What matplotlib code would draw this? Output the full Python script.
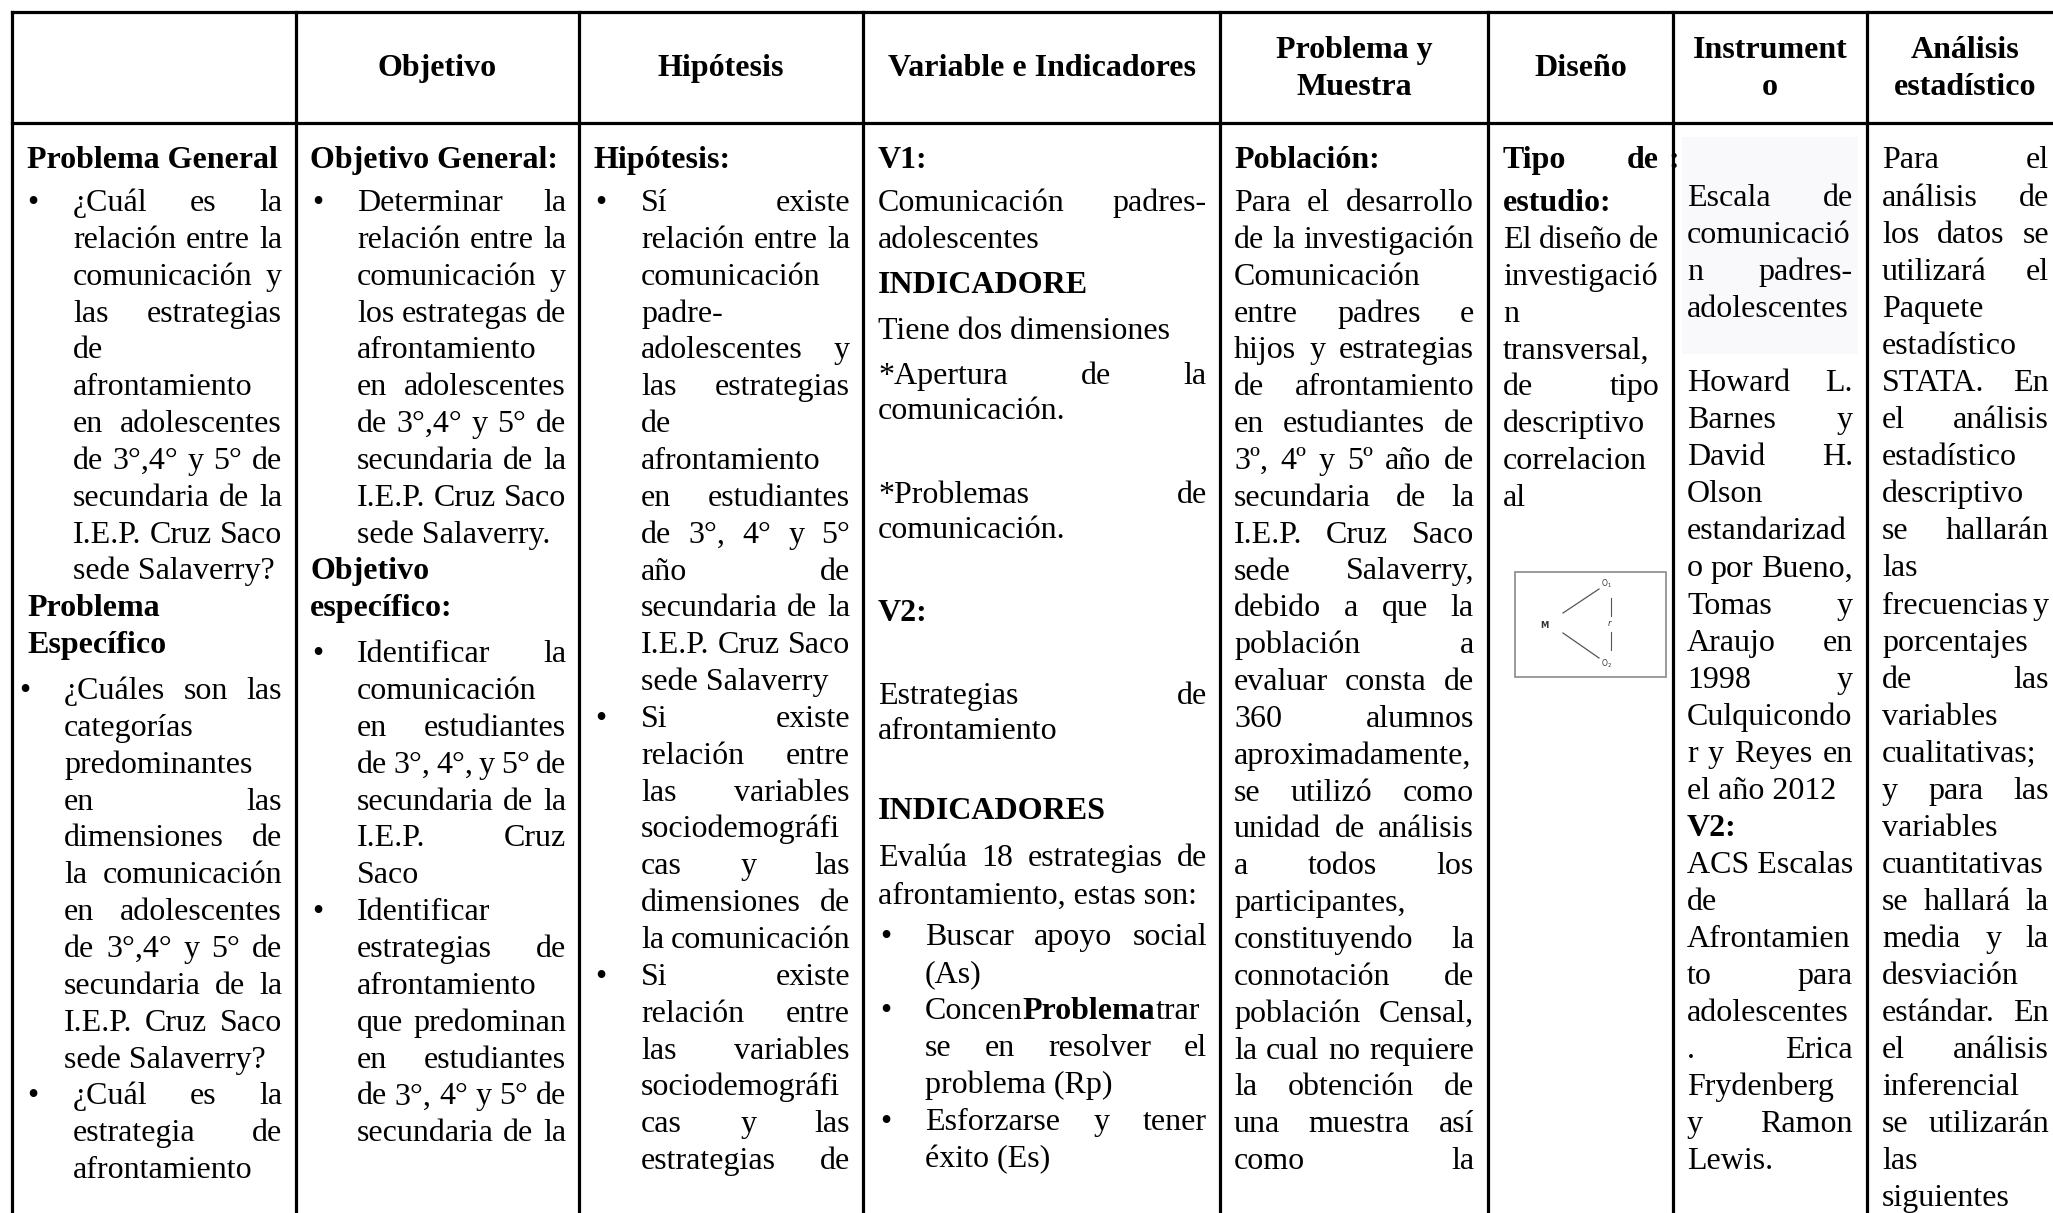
import matplotlib
matplotlib.use("Agg")
import matplotlib.pyplot as plt
from matplotlib.font_manager import FontProperties
from matplotlib.patches import Rectangle

# ---------------- data (text content) ----------------
HEADERS = ["", "Objetivo", "Hipótesis", "Variable e Indicadores",
           "Problema y\nMuestra", "Diseño", "Instrument\no", "Análisis\nestadístico"]

PROBLEMA = ["Problema General", "¿Cuál es la", "relación entre la", "comunicación y",
            "las estrategias", "de", "afrontamiento", "en adolescentes", "de 3°,4° y 5° de",
            "secundaria de la", "I.E.P. Cruz Saco", "sede Salaverry?", "Problema", "Específico",
            "¿Cuáles son las", "categorías", "predominantes", "en las", "dimensiones de",
            "la comunicación", "en adolescentes", "de 3°,4° y 5° de", "secundaria de la",
            "I.E.P. Cruz Saco", "sede Salaverry?", "¿Cuál es la", "estrategia de", "afrontamiento"]

OBJETIVO = ["Objetivo General:", "Determinar la", "relación entre la", "comunicación y",
            "los estrategas de", "afrontamiento", "en adolescentes", "de 3°,4° y 5° de",
            "secundaria de la", "I.E.P. Cruz Saco", "sede Salaverry.", "Objetivo", "específico:",
            "Identificar la", "comunicación", "en estudiantes", "de 3°, 4°, y 5° de",
            "secundaria de la", "I.E.P. Cruz", "Saco", "Identificar", "estrategias de",
            "afrontamiento", "que predominan", "en estudiantes", "de 3°, 4° y 5° de",
            "secundaria de la"]

HIPOTESIS = ["Hipótesis:", "Sí existe", "relación entre la", "comunicación", "padre-",
             "adolescentes y", "las estrategias", "de", "afrontamiento", "en estudiantes",
             "de 3°, 4° y 5°", "año de", "secundaria de la", "I.E.P. Cruz Saco", "sede Salaverry",
             "Si existe", "relación entre", "las variables", "sociodemográfi", "cas y las",
             "dimensiones de", "la comunicación", "Si existe", "relación entre", "las variables",
             "sociodemográfi", "cas y las", "estrategias de"]

VARIABLES = ["V1:", "Comunicación padres-", "adolescentes", "INDICADORE", "Tiene dos dimensiones",
             "*Apertura de la", "comunicación.", "*Problemas de", "comunicación.", "V2:",
             "Estrategias de", "afrontamiento", "INDICADORES", "Evalúa 18 estrategias de",
             "afrontamiento, estas son:", "Buscar apoyo social", "(As)", "Concen**Problema**trar",
             "se en resolver el", "problema (Rp)", "Esforzarse y tener", "éxito (Es)"]

POBLACION = ["Población:", "Para el desarrollo", "de la investigación", "Comunicación",
             "entre padres e", "hijos y estrategias", "de afrontamiento", "en estudiantes de",
             "3º, 4º y 5º año de", "secundaria de la", "I.E.P. Cruz Saco", "sede Salaverry,",
             "debido a que la", "población a", "evaluar consta de", "360 alumnos",
             "aproximadamente,", "se utilizó como", "unidad de análisis", "a todos los",
             "participantes,", "constituyendo la", "connotación de", "población Censal,",
             "la cual no requiere", "la obtención de", "una muestra así", "como la"]

DISENO = ["Tipo de", "estudio:", "El diseño de", "investigació", "n", "transversal,",
          "de tipo", "descriptivo", "correlacion", "al"]

INSTRUMENTO = ["Escala de", "comunicació", "n padres-", "adolescentes", "Howard L.",
               "Barnes y", "David H.", "Olson", "estandarizad", "o por Bueno,", "Tomas y",
               "Araujo en", "1998 y", "Culquicondo", "r y Reyes en", "el año 2012", "V2:",
               "ACS Escalas", "de", "Afrontamien", "to para", "adolescentes", ". Erica",
               "Frydenberg", "y Ramon", "Lewis."]

ANALISIS = ["Para el", "análisis de", "los datos se", "utilizará el", "Paquete", "estadístico",
            "STATA. En", "el análisis", "estadístico", "descriptivo", "se hallarán", "las",
            "frecuencias y", "porcentajes", "de las", "variables", "cualitativas;", "y para las",
            "variables", "cuantitativas", "se hallará la", "media y la", "desviación",
            "estándar. En", "el análisis", "inferencial", "se utilizarán", "las", "siguientes"]

# ---------------- layout ----------------
W, H, DPI = 2053, 1213, 100
COL_EDGES = [12, 296, 579, 863, 1220, 1488, 1673, 1867, 2063]
TOP, HEAD_BOTTOM = 12, 123
P = 36.85


def grid(base, pitch, ks):
    return [base + pitch * k for k in ks]


# format tokens: T bold-left, TJ bold-justified, J justified, L left, bJ/bL bullet line
COLUMNS = [
    dict(text=PROBLEMA, x=27, right=282,
         fmt="T bJ J J J L L J J J J L T T bJ L L J J J J J J J L bJ J L",
         bullets=[(27, 73), (19, 64), (27, 73)],
         ys=[157] + grid(200, P, range(11)) + grid(200, P, [11, 12]) + grid(209, P, range(13, 27))),
    dict(text=OBJETIVO, x=310, right=566,
         fmt="T bJ J J J L J J J J L T T bJ L J J J J L bL J L J J J J",
         bullets=[(312, 357), (312, 357), (312, 357)],
         ys=[157] + grid(200, P, range(10)) + grid(200, P, [10, 11]) + grid(209, P, range(12, 26))),
    dict(text=HIPOTESIS, x=594, right=850,
         fmt="T bJ J L L J J L L J J J J J L bJ J J L J J J bJ J J L J J",
         bullets=[(595, 641), (595, 641), (595, 641)],
         ys=[157] + grid(200, P, range(27))),
    dict(text=VARIABLES, x=878, right=1207,
         fmt="T J L T L J L J L T J L T J L bJ L bL J L bJ L",
         bullets=[(880, 925), (880, 925), (880, 925)],
         ys=[157, 200, 237, 282, 328, 373, 408, 492, 527, 610, 693, 728, 808, 855, 893,
             934, 971, 1008, 1045, 1082, 1119, 1156]),
    dict(text=POBLACION, x=1234, right=1474,
         fmt="T J J L J J J J J J J J J J J J L J J J L J J J J J J J",
         bullets=[], ys=[157] + grid(200, P, range(27))),
    dict(text=DISENO, x=1503, right=1659,
         fmt="TJ T J L L L J L L L",
         bullets=[], ys=[157] + grid(200, P, range(9))),
    dict(text=INSTRUMENTO, x=1687, right=1853,
         fmt="J L J L J J J L L J J J J L J L T L L L J L J L J L",
         bullets=[], ys=grid(195, 37.05, [0, 1, 2, 3] + list(range(5, 27)))),
    dict(text=ANALISIS, x=1882, right=2049,
         fmt="J J J J L L J J L L J L J L J L L J L L J J L J J L J L L",
         bullets=[], ys=[157] + grid(195, 37.05, range(28))),
]

FS = 23
REG = FontProperties(family="Liberation Serif", size=FS)
BOLD = FontProperties(family="Liberation Serif", size=FS, weight="bold")
BASE = 11  # baseline offset from line centre (px)

fig = plt.figure(figsize=(W / DPI, H / DPI), dpi=DPI)
fig.patch.set_facecolor("white")
ax = fig.add_axes([0, 0, 1, 1])
ax.set_xlim(0, W)
ax.set_ylim(H, 0)
ax.axis("off")
renderer = fig.canvas.get_renderer()


def tw(s, prop):
    w, h, d = renderer.get_text_width_height_descent(s, prop, ismath=False)
    return w


def runs(s, bold):
    out = []
    for i, part in enumerate(s.split("**")):
        if part:
            b = bold ^ (i % 2 == 1)
            out.append((part, BOLD if b else REG))
    return out


def runs_width(s, bold):
    return sum(tw(p, pr) for p, pr in runs(s, bold))


def draw_runs(x, yb, s, bold):
    for part, pr in runs(s, bold):
        ax.text(x, yb, part, fontproperties=pr, ha="left", va="baseline", color="black", zorder=3)
        x += tw(part, pr)


def draw_line(x0, right, yb, s, bold, justify):
    words = s.split()
    if justify and len(words) > 1:
        ws = [runs_width(w, bold) for w in words]
        gap = (right - x0 - sum(ws)) / (len(words) - 1)
        if gap > 4:
            x = x0
            for w, ww in zip(words, ws):
                draw_runs(x, yb, w, bold)
                x += ww + gap
            return
    draw_runs(x0, yb, s, bold)


# faint shaded area in the Instrumento column
ax.add_patch(Rectangle((1682, 137), 176, 217, facecolor="#f9f9fc", edgecolor="none", zorder=0))

# table rules
LW = 2.3
for xe in COL_EDGES:
    ax.plot([xe, xe], [TOP, H + 10], color="black", lw=LW, solid_capstyle="projecting", zorder=4)
for ye in (TOP, HEAD_BOTTOM):
    ax.plot([COL_EDGES[0], COL_EDGES[-1]], [ye, ye], color="black", lw=LW,
            solid_capstyle="projecting", zorder=4)

# stray colon after "Tipo de", sitting on the rule
ax.text(COL_EDGES[6] + 1, 157 + BASE, ":", fontproperties=BOLD, ha="center", va="baseline", zorder=5)

# headers
for i, h in enumerate(HEADERS):
    if not h:
        continue
    cx = (COL_EDGES[i] + COL_EDGES[i + 1]) / 2
    parts = h.split("\n")
    ys = [65] if len(parts) == 1 else [47, 84]
    for part, yc in zip(parts, ys):
        ax.text(cx, yc + BASE, part, fontproperties=BOLD, ha="center", va="baseline", zorder=3)

# body cells
for col in COLUMNS:
    toks = col["fmt"].split()
    assert len(toks) == len(col["text"]) == len(col["ys"])
    indent = col["x"]
    bi = 0
    for tok, s, yc in zip(toks, col["text"], col["ys"]):
        yb = yc + BASE
        if tok in ("T", "TJ"):
            indent = col["x"]
            draw_line(col["x"], col["right"], yb, s, True, tok == "TJ")
            continue
        if tok.startswith("b"):
            bx, indent = col["bullets"][bi]
            bi += 1
            ax.text(bx, yb, "•", fontproperties=REG, ha="left", va="baseline", zorder=3)
            tok = tok[1:]
        draw_line(indent, col["right"], yb, s, False, tok == "J")

# design diagram (M -> O1, O2 with r)
bx0, by0, bw, bh = 1515, 572, 151, 105
ax.add_patch(Rectangle((bx0, by0), bw, bh, facecolor="white", edgecolor="#8a8a8a", lw=1.2, zorder=2))
gray = "#555555"
ax.text(bx0 + 29, by0 + 53, "M", fontsize=6, color="#333333", ha="center", va="center",
        fontweight="bold", family="DejaVu Sans", zorder=3)
ax.plot([bx0 + 48, bx0 + 84], [by0 + 41, by0 + 17], color=gray, lw=0.9, zorder=3)
ax.plot([bx0 + 48, bx0 + 84], [by0 + 61, by0 + 86], color=gray, lw=0.9, zorder=3)
ax.text(bx0 + 91, by0 + 12, r"O$_1$", fontsize=5.5, color="#333333", ha="center", va="center", zorder=3)
ax.text(bx0 + 91, by0 + 92, r"O$_2$", fontsize=5.5, color="#333333", ha="center", va="center", zorder=3)
ax.plot([bx0 + 96, bx0 + 96], [by0 + 26, by0 + 44], color=gray, lw=0.8, zorder=3)
ax.plot([bx0 + 96, bx0 + 96], [by0 + 60, by0 + 78], color=gray, lw=0.8, zorder=3)
ax.text(bx0 + 94, by0 + 52, "r", fontsize=6, style="italic", color="#333333", ha="center",
        va="center", family="DejaVu Sans", zorder=3)

fig.savefig("out.png", dpi=DPI, facecolor="white")
